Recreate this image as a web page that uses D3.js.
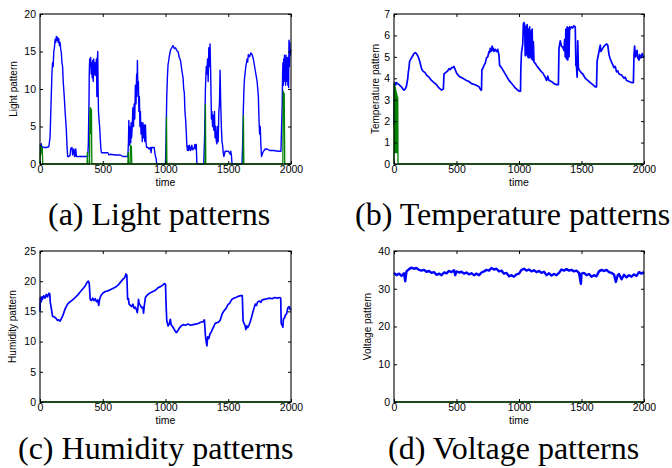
<!DOCTYPE html>
<html><head><meta charset="utf-8">
<script src="https://cdn.jsdelivr.net/npm/d3@7"></script>
<style>body{margin:0;background:#fff}</style></head><body>
<svg id="c" width="672" height="468"></svg>
<script>
const timeTicks=[0,500,1000,1500,2000];
const lightTicks=[0,5,10,15,20];
const tempTicks=[0,1,2,3,4,5,6,7];
const humTicks=[0,5,10,15,20,25];
const voltTicks=[0,10,20,30,40];
const captions=["(a) Light patterns","(b) Temperature patterns","(c) Humidity patterns","(d) Voltage patterns"];
const yLabels=["Light pattern","Temperature pattern","Humidity pattern","Voltage pattern"];

const lightBlue=[[0,2.6],[5,2.4],[10,2.7],[15,2.2],[20,2.3],[30,2.2],[50,2.2],[70,2.3],[80,3.5],[88,8],[95,12],[100,13.5],[105,13],[110,15],[115,15.5],[120,16.6],[125,16.2],[130,17],[135,16.5],[140,16.9],[145,16.2],[150,16.7],[155,15.8],[160,16.2],[165,15.3],[170,14.8],[175,13.5],[180,13.0],[185,11],[190,9.8],[195,8.5],[200,7],[210,4.5],[215,2.5],[220,1.0],[230,1.0],[240,1.2],[245,2.1],[255,2.2],[260,1.2],[265,1.8],[270,2.0],[275,1.0],[280,1.1],[285,2.0],[290,1.0],[320,1.0],[360,1.0],[380,1.0],[385,2.5],[390,8],[393,12.5],[396,14],[400,13],[404,14.2],[408,12],[412,13.5],[416,11.5],[420,13.8],[424,11],[428,14],[432,12],[436,13.5],[440,11.8],[445,13.2],[450,14],[453,9],[456,13.5],[460,15],[463,10],[466,7],[470,6],[475,5],[480,3.5],[485,2],[490,1.5],[500,1.5],[540,1.5],[550,1.2],[560,1.3],[600,1.2],[640,1.2],[660,1.0],[700,1.0],[705,3.0],[708,5.8],[711,2.5],[714,5.0],[717,3.0],[720,4.5],[723,2.8],[726,5.5],[730,3.5],[735,5],[740,7.5],[745,5],[750,8],[755,6],[760,10.5],[765,8],[770,12],[773,9],[776,13.8],[780,10],[784,11],[788,7],[792,9],[796,5],[800,7],[805,4],[810,5.5],[815,3],[820,5.5],[825,3.5],[830,5.2],[835,3],[840,5.2],[845,2.8],[850,2.2],[860,2.2],[870,2.0],[880,2.2],[885,1.5],[890,2.2],[900,2.2],[910,2.2],[915,1.5],[920,1.0],[925,0.8],[930,0],[1000,0],[1005,4],[1010,9],[1015,11.5],[1020,13.2],[1030,14.3],[1040,15.2],[1050,15.5],[1060,15.8],[1070,15.4],[1080,15.5],[1090,15.1],[1100,15.0],[1110,14.2],[1120,13.8],[1130,12.5],[1140,11.5],[1145,10],[1150,9.5],[1155,7],[1160,6],[1165,4.5],[1170,2.5],[1175,1.8],[1180,2.4],[1185,1.8],[1190,2.5],[1200,1.8],[1210,2.5],[1215,1.9],[1225,2.0],[1235,2.6],[1240,2.0],[1245,2.6],[1250,0],[1305,0],[1312,4],[1318,10],[1325,13],[1330,12],[1335,14],[1340,11],[1345,15.5],[1350,13],[1355,16],[1360,12],[1363,9],[1366,6],[1370,7],[1375,5],[1380,6.5],[1385,4.5],[1390,7],[1395,3.5],[1400,5],[1405,3],[1410,2.7],[1415,5],[1420,3],[1425,7],[1430,8],[1435,12.5],[1440,8],[1445,5],[1450,3],[1455,2.5],[1460,1.5],[1465,1.0],[1475,1.7],[1500,1.7],[1510,1.5],[1515,1.3],[1520,1.7],[1525,1.2],[1530,0],[1610,0],[1615,3],[1620,7],[1625,10],[1630,11.5],[1640,13],[1650,14],[1655,13.6],[1660,14.6],[1670,14.3],[1680,14.8],[1690,14.6],[1700,14.0],[1710,13],[1720,12],[1730,11],[1740,9],[1745,6],[1750,4],[1755,5],[1760,2.5],[1765,1.0],[1775,1.5],[1785,1.8],[1795,2.0],[1810,2.0],[1830,1.8],[1860,1.8],[1900,1.7],[1920,1.7],[1925,5],[1930,8],[1933,12],[1936,13.5],[1939,10.5],[1942,14],[1945,12],[1948,14.5],[1951,11],[1954,13.5],[1957,10.5],[1960,14.5],[1963,11],[1966,13],[1969,12],[1972,14.2],[1975,10.5],[1978,12.5],[1981,10.2],[1984,16.5],[1987,13],[1990,16.2],[1994,14.5],[1997,15.2],[2000,15]];
const lightGreen=[[0,0],[3,2.5],[6,1.2],[10,2.4],[14,1.5],[18,2.2],[22,0],[375,0],[378,1.6],[382,0],[395,0],[398,7.6],[401,4],[404,7.5],[407,5],[410,7.3],[413,0],[700,0],[703,1.6],[706,0],[718,0],[721,2.6],[725,1.5],[728,2.4],[731,0],[1005,0],[1008,6.3],[1011,0],[1315,0],[1318,8],[1321,0],[1618,0],[1621,6.5],[1624,0],[1935,0],[1938,9.8],[1942,8],[1946,9.5],[1950,0],[2000,0]];

const tempBlue=[[0,1.8],[3,3.7],[8,3.8],[15,3.7],[20,3.8],[30,3.75],[40,3.7],[50,3.65],[60,3.6],[70,3.5],[80,3.45],[90,3.5],[100,3.65],[110,4.0],[115,4.3],[120,4.5],[125,4.8],[130,4.85],[140,4.95],[150,5.05],[160,5.15],[170,5.2],[180,5.15],[190,5.05],[200,4.9],[210,4.7],[220,4.45],[230,4.35],[240,4.3],[250,4.25],[260,4.15],[280,4.05],[300,3.9],[320,3.8],[340,3.7],[360,3.55],[380,3.45],[395,3.5],[400,4.2],[410,4.25],[420,4.3],[430,4.35],[440,4.45],[450,4.4],[460,4.5],[470,4.5],[480,4.55],[490,4.4],[500,4.25],[520,4.1],[550,4.0],[580,3.9],[600,3.85],[620,3.75],[650,3.7],[680,3.6],[695,3.45],[700,3.45],[703,4.4],[710,4.45],[720,4.6],[730,4.7],[740,4.95],[750,5.0],[760,5.25],[765,5.2],[770,5.4],[775,5.25],[780,5.3],[785,5.5],[790,5.3],[795,5.4],[800,5.25],[810,5.35],[820,5.25],[830,5.35],[840,5.05],[845,4.6],[860,4.5],[880,4.3],[900,4.1],[920,3.9],[950,3.7],[970,3.55],[990,3.45],[1000,3.4],[1012,3.4],[1015,4.5],[1020,5.2],[1030,5.6],[1035,6.55],[1040,6.6],[1045,6.5],[1050,5.05],[1055,6.4],[1060,5.1],[1065,6.5],[1070,5.0],[1075,6.3],[1080,4.95],[1085,6.4],[1090,5.0],[1095,6.2],[1100,4.9],[1105,6.3],[1110,4.85],[1115,5.7],[1120,4.75],[1130,4.7],[1140,4.6],[1160,4.45],[1180,4.3],[1190,4.25],[1200,4.15],[1210,4.05],[1220,3.9],[1230,4.1],[1240,3.9],[1260,3.85],[1280,3.75],[1300,3.7],[1315,3.7],[1320,5.4],[1330,5.75],[1340,5.5],[1350,5.45],[1360,5.3],[1365,5.8],[1370,5.0],[1375,6.3],[1380,4.9],[1385,6.4],[1390,4.85],[1395,6.35],[1400,5.0],[1405,6.4],[1410,6.3],[1420,6.4],[1430,6.35],[1440,6.45],[1450,6.4],[1455,4.6],[1460,4.55],[1465,4.05],[1470,5.75],[1475,4.5],[1480,4.4],[1500,4.25],[1510,4.2],[1530,4.0],[1550,3.9],[1570,3.8],[1590,3.7],[1610,3.6],[1620,3.6],[1625,4.8],[1635,5.1],[1640,5.25],[1650,5.55],[1655,5.25],[1665,5.35],[1680,5.5],[1690,5.55],[1700,5.6],[1710,5.55],[1720,5.1],[1730,4.9],[1745,4.7],[1760,4.5],[1770,4.55],[1780,4.3],[1790,4.35],[1800,4.2],[1820,4.15],[1840,4.0],[1850,4.05],[1860,3.9],[1880,3.85],[1900,3.8],[1915,3.8],[1920,5.1],[1925,5.5],[1930,5.0],[1935,5.25],[1940,5.05],[1945,5.3],[1950,4.95],[1960,4.85],[1965,5.1],[1975,4.95],[1985,5.15],[1995,5.0],[2000,5.05]];
const tempGreen=[[0,0],[2,3.8],[4,0.5],[6,3.7],[8,0.5],[10,3.6],[12,0.5],[14,3.5],[16,0.5],[18,3.4],[20,0.5],[22,3.3],[24,0.5],[26,3.2],[28,0.5],[30,3.1],[32,0],[2000,0]];

const humBlue=[[0,15],[3,17.3],[10,16.6],[15,17.4],[20,17.0],[30,17.6],[40,17.2],[50,17.8],[60,17.4],[70,18.0],[78,17.9],[82,16.5],[90,15.5],[100,14.2],[110,14.1],[120,14.0],[130,13.8],[140,13.5],[150,13.6],[160,13.4],[170,13.8],[180,14.2],[190,14.8],[200,15.4],[210,15.8],[220,16.2],[240,16.6],[260,16.9],[280,17.3],[300,17.7],[320,18.2],[340,18.7],[360,19.2],[375,19.8],[385,20.0],[392,19.7],[400,17.0],[410,16.8],[420,17.2],[430,16.8],[440,17.1],[450,16.6],[460,16.9],[468,16.0],[475,17.0],[485,17.6],[500,18.0],[520,18.3],[540,18.4],[560,18.6],[580,18.8],[600,19.0],[620,19.3],[640,19.8],[660,20.3],[675,20.6],[685,21.2],[692,21.0],[698,17.0],[705,17.1],[710,16.2],[720,16.0],[730,15.8],[740,16.2],[750,15.5],[760,15.7],[770,15.2],[775,14.8],[780,15.5],[785,17.0],[790,16.3],[800,16.0],[810,15.6],[820,15.7],[825,14.7],[830,15.8],[840,17.3],[850,17.6],[860,17.8],[880,18.1],[900,18.3],[920,18.5],[940,18.9],[960,19.1],[980,19.4],[990,19.6],[1000,19.5],[1005,16.0],[1010,13.5],[1020,12.6],[1030,12.9],[1038,13.7],[1045,12.8],[1055,12.5],[1065,12.2],[1075,11.8],[1085,11.5],[1095,11.7],[1110,12.2],[1125,12.6],[1140,12.8],[1160,12.7],[1180,12.9],[1200,12.7],[1220,12.8],[1240,12.9],[1260,13.0],[1280,13.2],[1300,13.3],[1310,13.6],[1318,11.0],[1325,9.9],[1330,9.3],[1336,10.8],[1345,10.5],[1355,11.3],[1365,11.6],[1375,12.1],[1385,12.5],[1395,13.0],[1405,13.1],[1420,13.2],[1435,13.5],[1450,14.5],[1460,14.9],[1470,15.2],[1480,15.4],[1490,15.8],[1500,16.2],[1510,16.3],[1520,16.7],[1530,17.0],[1545,17.2],[1560,17.3],[1580,17.5],[1600,17.6],[1612,17.6],[1618,13.5],[1625,13.0],[1632,12.8],[1640,12.0],[1648,12.6],[1655,12.3],[1665,12.7],[1675,13.3],[1685,14.0],[1695,14.8],[1705,15.5],[1715,16.2],[1725,16.0],[1735,16.6],[1750,16.7],[1760,16.5],[1770,16.9],[1790,17.0],[1810,17.1],[1830,17.2],[1850,17.1],[1870,17.3],[1890,17.2],[1910,17.3],[1918,17.2],[1922,13.0],[1930,12.7],[1935,12.4],[1940,13.8],[1948,13.9],[1955,14.4],[1965,14.6],[1975,15.6],[1985,15.8],[1995,15.3],[2000,15.4]];
const humGreen=[[0,0],[2000,0]];

const voltBlue=[[0,34.2],[20,33.6],[40,34.0],[60,33.4],[80,34.1],[90,32.0],[100,34.6],[120,35.2],[140,35.6],[160,35.3],[180,35.5],[200,35.0],[220,34.8],[240,35.0],[260,34.5],[280,34.7],[300,34.2],[320,34.4],[340,33.7],[360,34.0],[380,33.6],[400,34.3],[420,34.1],[440,34.7],[460,34.4],[480,34.9],[490,33.6],[500,34.6],[520,34.3],[540,34.5],[560,34.0],[580,34.3],[600,33.8],[620,34.1],[640,33.6],[660,34.0],[680,33.6],[700,34.3],[720,34.6],[740,35.0],[760,34.8],[780,35.5],[800,35.1],[820,35.3],[840,34.6],[860,34.8],[880,34.0],[900,34.2],[920,33.3],[940,33.6],[960,33.2],[980,33.8],[1000,34.0],[1020,35.0],[1040,35.3],[1060,34.8],[1080,35.1],[1100,34.6],[1120,34.9],[1140,34.4],[1160,34.7],[1180,34.2],[1200,34.5],[1220,33.6],[1240,34.1],[1260,33.5],[1280,33.9],[1300,33.6],[1320,34.2],[1340,35.1],[1360,34.8],[1380,35.2],[1400,34.8],[1420,35.0],[1440,34.6],[1460,34.8],[1480,34.2],[1495,31.3],[1500,34.0],[1520,34.2],[1540,33.6],[1560,33.9],[1580,33.2],[1600,33.6],[1620,33.3],[1640,34.6],[1660,35.0],[1680,34.7],[1700,35.0],[1720,34.4],[1740,34.2],[1760,33.8],[1775,31.8],[1790,33.6],[1800,33.9],[1820,32.5],[1840,33.7],[1860,33.0],[1880,33.6],[1900,33.2],[1920,33.8],[1940,33.4],[1960,34.4],[1980,34.0],[2000,34.4]];
const voltGreen=[[0,0],[2000,0]];

const svg=d3.select("#c");
const panels=[
 {x0:40,x1:291,y0:14,y1:164,ymax:20,ticks:lightTicks,blue:lightBlue,green:lightGreen,sw:1.4,lx:13.5,tly:182,cx:48,cy:225},
 {x0:394,x1:644,y0:14,y1:164,ymax:7,ticks:tempTicks,blue:tempBlue,green:tempGreen,sw:1.7,lx:375,tly:182,cx:355,cy:225},
 {x0:40,x1:291,y0:251,y1:402,ymax:25,ticks:humTicks,blue:humBlue,green:humGreen,sw:1.7,lx:12.5,tly:420,cx:18,cy:459},
 {x0:394,x1:644,y0:251,y1:402,ymax:40,ticks:voltTicks,blue:voltBlue,green:voltGreen,sw:2.4,lx:367,tly:420,cx:388,cy:459}
];
const sans="'Liberation Sans', Arial, sans-serif";
const fmt=d3.format("d");
panels.forEach((p,i)=>{
  const x=d3.scaleLinear().domain([0,2000]).range([p.x0,p.x1]);
  const y=d3.scaleLinear().domain([0,p.ymax]).range([p.y1,p.y0]);
  const g=svg.append("g");
  const line=d3.line().x(d=>x(d[0])).y(d=>y(d[1]));
  g.append("path").datum(p.blue).attr("d",line).attr("fill","none").attr("stroke","#0000ff").attr("stroke-width",p.sw).attr("stroke-linejoin","round");
  g.append("path").datum(p.green).attr("d",line).attr("fill","none").attr("stroke","#008000").attr("stroke-width",1.3);
  const ax=(gen,tr)=>{const a=g.append("g").attr("transform",tr).call(gen);a.select(".domain").remove();a.selectAll("line").attr("stroke","#000");a.selectAll("text").attr("font-family",sans).attr("font-size",10.5).attr("fill","#000");return a;};
  ax(d3.axisBottom(x).tickValues(timeTicks).tickFormat(fmt).tickSizeInner(-3).tickSizeOuter(0).tickPadding(2),`translate(0,${p.y1})`);
  ax(d3.axisTop(x).tickValues(timeTicks).tickSizeInner(-3).tickSizeOuter(0).tickFormat(""),`translate(0,${p.y0})`);
  ax(d3.axisLeft(y).tickValues(p.ticks).tickFormat(fmt).tickSizeInner(-3).tickSizeOuter(0).tickPadding(4),`translate(${p.x0},0)`);
  ax(d3.axisRight(y).tickValues(p.ticks).tickSizeInner(-3).tickSizeOuter(0).tickFormat(""),`translate(${p.x1},0)`);
  g.append("rect").attr("x",p.x0).attr("y",p.y0).attr("width",p.x1-p.x0).attr("height",p.y1-p.y0).attr("fill","none").attr("stroke","#000").attr("stroke-width",1.1);
  g.append("text").attr("x",(p.x0+p.x1)/2).attr("y",p.tly).attr("dy","0.35em").attr("text-anchor","middle").attr("font-family",sans).attr("font-size",10.5).text("time");
  g.append("text").attr("transform",`translate(${p.lx},${(p.y0+p.y1)/2}) rotate(-90)`).attr("dy","0.35em").attr("text-anchor","middle").attr("font-family",sans).attr("font-size",10).text(yLabels[i]);
  svg.append("text").attr("x",p.cx).attr("y",p.cy).attr("font-family","'Liberation Serif','Times New Roman',serif").attr("font-size",32).attr("fill","#000").text(captions[i]);
});
</script></body></html>
